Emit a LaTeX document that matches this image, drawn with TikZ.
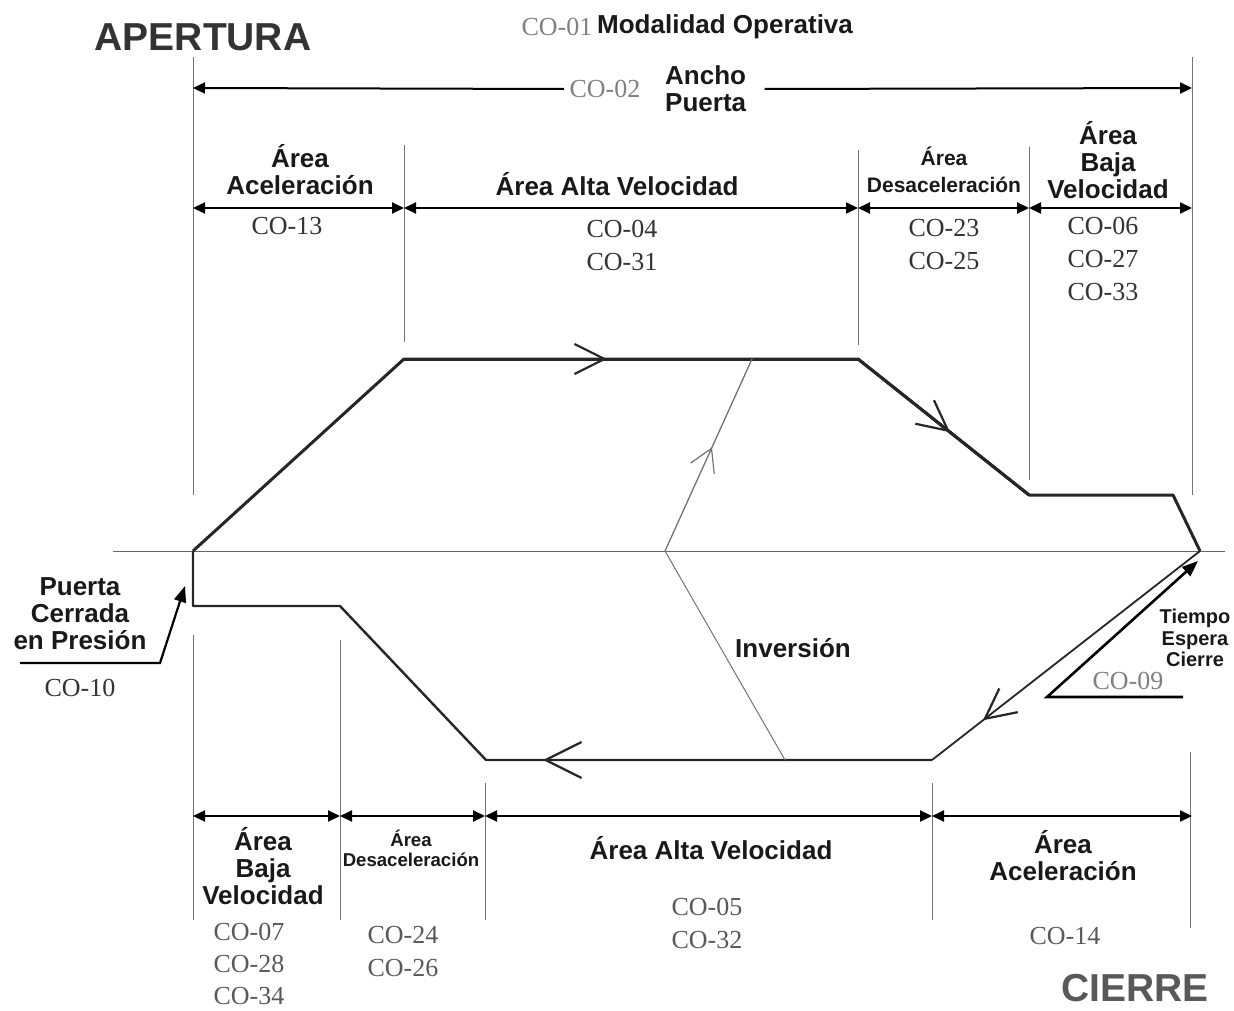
\documentclass[tikz,border=0pt]{standalone}
\usepackage{fontspec}
\setmainfont{Liberation Serif}
\setsansfont{Liberation Sans}
\usetikzlibrary{arrows.meta, positioning, decorations.markings}

\begin{document}
\begin{tikzpicture}[x=0.5pt, y=-0.5pt,
  guide/.style={draw=black!55, line width=0.5pt},
  profile/.style={draw=black!85, line width=1.5pt, line join=round},
  dimline/.style={draw=black, line width=1pt, {Triangle[length=6pt,width=5.5pt]}-{Triangle[length=6pt,width=5.5pt]}},
  halfdim/.style={draw=black, line width=1pt, -{Triangle[length=6pt,width=5.5pt]}},
  pointer/.style={draw=black, line width=1.3pt, line join=miter, -{Triangle[length=8pt,width=6pt]}},
  area/.style={font=\sffamily\bfseries\fontsize{13}{13.5}\selectfont, align=center, text=black!90, inner sep=0pt},
  smallarea/.style={area, font=\sffamily\bfseries\fontsize{10.5}{13.5}\selectfont},
  tinyarea/.style={area, font=\sffamily\bfseries\fontsize{9.3}{10}\selectfont},
  codes/.style={font=\fontsize{13}{16.5}\selectfont, align=center, text=black!80, inner sep=0pt},
  greycode/.style={codes, text=black!50},
  heading/.style={font=\sffamily\bfseries\fontsize{19.5}{20}\selectfont, inner sep=0pt},
  flow/.style args={#1 and #2}{postaction={decorate}, decoration={markings,
    mark=at position #1 with {\arrow{Straight Barb[length=#2, width=#2, line width=1.1pt]}}}},
  thinflow/.style={postaction={decorate}, decoration={markings,
    mark=at position #1 with {\arrow{Straight Barb[length=11pt, width=13pt, line width=0.6pt]}}}}
]
\useasboundingbox (0,0) rectangle (1234,1010);

% headings
\node[heading, text=black!80] (apertura) at (203,37) {APERTURA};
\node[heading, text=black!65] (cierre) at (1135,988) {CIERRE};
\node[greycode] (co01) at (557,27) {CO-01};
\node[area, right=2pt of co01] (modal) {Modalidad Operativa};

% guides
\draw[guide] (193,57) -- (193,495);
\draw[guide] (404,145) -- (404,342);
\draw[guide] (858,150) -- (858,345);
\draw[guide] (1029,147) -- (1029,480);
\draw[guide] (1192,57) -- (1192,495);
\draw[guide] (193,635) -- (193,920);
\draw[guide] (340,640) -- (340,920);
\draw[guide] (485,783) -- (485,920);
\draw[guide] (932,783) -- (932,920);
\draw[guide] (1190,752) -- (1190,928);
\draw[guide, draw=black!60] (113,551) -- (1225,551);

% ancho puerta
\node[greycode] (co02) at (605,89) {CO-02};
\node[area, right=12pt of co02] (ancho) {Ancho\\Puerta};
\coordinate (aL) at (193,88);
\coordinate (aR) at (1192,88);
\draw[halfdim] (co02.west) ++(-5,0) -- (aL);
\draw[halfdim] (ancho.east) ++(18,0) -- (aR);

% apertura areas
\coordinate (t0) at (193,208);
\coordinate (t1) at (404,208);
\coordinate (t2) at (858,208);
\coordinate (t3) at (1029,208);
\coordinate (t4) at (1192,208);
\draw[dimline] (t0) -- (t1);
\draw[dimline] (t1) -- (t2);
\draw[dimline] (t2) -- (t3);
\draw[dimline] (t3) -- (t4);
\node[area] (acc1) at (300,170) {Área\\Aceleración};
\node[area] (alta1) at (617,184) {Área Alta Velocidad};
\node[smallarea] (des1) at (944,170) {Área\\Desaceleración};
\node[area] (baja1) at (1108,160) {Área\\Baja\\Velocidad};
\node[codes] (c13) at (287,226) {CO-13};
\node[codes] (c04) at (622,245) {CO-04\\CO-31};
\node[codes] (c23) at (944,245) {CO-23\\CO-25};
\node[codes] (c06) at (1103,259) {CO-06\\CO-27\\CO-33};

% cierre areas
\coordinate (b0) at (193,816);
\coordinate (b1) at (340,816);
\coordinate (b2) at (485,816);
\coordinate (b3) at (932,816);
\coordinate (b4) at (1192,816);
\draw[dimline] (b0) -- (b1);
\draw[dimline] (b1) -- (b2);
\draw[dimline] (b2) -- (b3);
\draw[dimline] (b3) -- (b4);
\node[area] (baja2) at (263,866) {Área\\Baja\\Velocidad};
\node[tinyarea] (des2) at (411,848) {Área\\Desaceleración};
\node[area] (alta2) at (711,848) {Área Alta Velocidad};
\node[area] (acc2) at (1063,856) {Área\\Aceleración};
\node[codes, text=black!65, font=\fontsize{13}{15.8}\selectfont] (c07) at (249,964) {CO-07\\CO-28\\CO-34};
\node[codes, text=black!65] (c24) at (403,952) {CO-24\\CO-26};
\node[codes, text=black!65] (c05) at (707,923) {CO-05\\CO-32};
\node[codes, text=black!65] (c14) at (1065,936) {CO-14};

% profile points
\coordinate (p0) at (193,551);
\coordinate (p1) at (404,359);
\coordinate (p2) at (858,359);
\coordinate (p3) at (1029,495);
\coordinate (p4) at (1173,495);
\coordinate (p5) at (1200,551);
\coordinate (q1) at (193,606);
\coordinate (q2) at (340,606);
\coordinate (q3) at (486,760);
\coordinate (q4) at (932,760);

\draw[profile] (p0) -- (p1) -- (p2) -- (p3) -- (p4) -- (p5);
\draw[profile, flow={0.447 and 15pt}] (p1) -- (p2);
\draw[profile, flow={0.54 and 15pt}] (p2) -- (p3);
\draw[profile, line width=1.2pt] (p0) -- (q1) -- (q2) -- (q3) -- (q4);
\draw[profile, line width=1.2pt, flow={0.872 and 18pt}] (q4) -- (q3);
\draw[profile, line width=0.9pt, flow={0.81 and 15pt}] (p5) -- (q4);

% inversion
\coordinate (i0) at (785,760);
\coordinate (i1) at (665,551);
\coordinate (i2) at (752,359);
\draw[guide] (i0) -- (i1) -- (i2);
\draw[guide, thinflow=0.54] (i1) -- (i2);
\node[area] (inv) at (793,648) {Inversión};

% tiempo espera cierre
\node[area, font=\sffamily\bfseries\fontsize{10}{10.7}\selectfont] (espera) at (1195,638) {Tiempo\\Espera\\Cierre};
\node[greycode] (co09) at (1128,681) {CO-09};
\coordinate (w0) at (1047,697);
\coordinate (w1) at (1198,561);
\coordinate (w2) at (1183,697);
\draw[pointer] (w2) -- (w0) -- (w1);

% puerta cerrada
\node[area] (cerrada) at (80,614) {Puerta\\Cerrada\\en Presión};
\node[codes, below=14pt of cerrada] (c10) {CO-10};
\coordinate (u0) at (20,663);
\coordinate (u1) at (160,663);
\coordinate (u2) at (185,586);
\draw[pointer, line width=1.1pt] (u0) -- (u1) -- (u2);
\end{tikzpicture}
\end{document}
